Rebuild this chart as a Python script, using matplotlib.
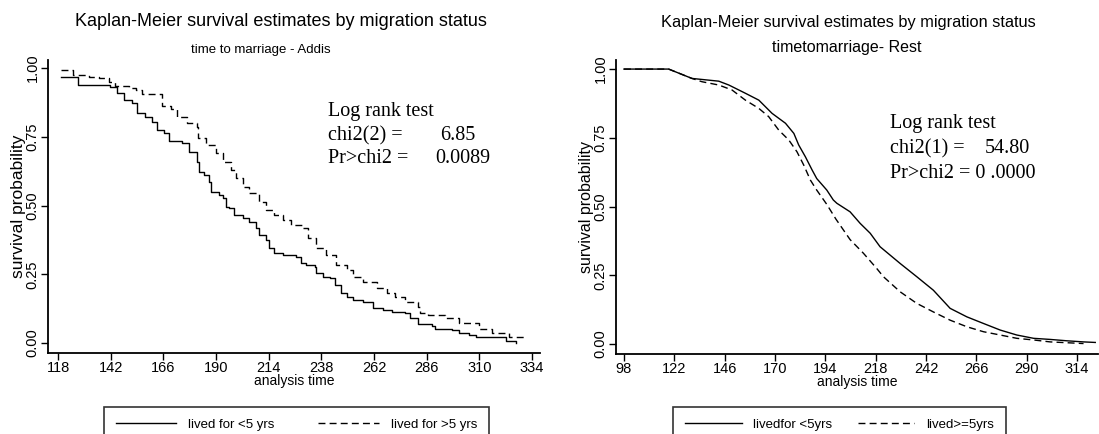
import matplotlib
matplotlib.use("Agg")
import matplotlib.pyplot as plt

# === Date ===
# Addis - lived for <5 yrs
addis_t_lt5 = [119.4, 127.3, 141.8, 144.9, 147.9, 151.7, 154.0, 157.8, 160.9, 163.2, 166.2, 168.5,
               174.6, 177.7, 181.5, 182.3, 184.6, 186.9, 187.7, 191.4, 193.0, 194.5, 196.0, 198.3,
               202.1, 205.2, 208.2, 209.7, 212.8, 214.3, 216.6, 220.5, 226.5, 228.8, 231.1, 234.9,
               235.7, 238.8, 241.8, 244.1, 247.2, 249.5, 252.5, 257.1, 261.7, 266.3, 270.1, 276.2,
               278.5, 282.3, 288.4, 289.9, 297.6, 300.6, 305.2, 308.3, 315.9, 322.0, 326.6]
addis_s_lt5 = [0.968, 0.938, 0.932, 0.908, 0.884, 0.872, 0.835, 0.823, 0.805, 0.775, 0.763, 0.735,
               0.726, 0.696, 0.659, 0.623, 0.611, 0.587, 0.550, 0.538, 0.526, 0.496, 0.490, 0.465,
               0.453, 0.441, 0.417, 0.393, 0.375, 0.344, 0.326, 0.320, 0.314, 0.290, 0.284, 0.277,
               0.253, 0.241, 0.235, 0.211, 0.181, 0.168, 0.156, 0.150, 0.126, 0.120, 0.114, 0.108,
               0.090, 0.069, 0.062, 0.053, 0.047, 0.037, 0.029, 0.023, 0.021, 0.008, 0.001]

# Addis - lived for >5 yrs
addis_t_gt5 = [119.4, 125.0, 131.9, 136.5, 141.0, 144.1, 150.2, 153.3, 156.3, 165.5, 169.3, 172.4,
               176.9, 181.5, 182.0, 185.3, 189.9, 193.0, 196.8, 199.1, 202.1, 205.2, 209.7, 212.8,
               216.6, 220.5, 224.3, 229.6, 231.9, 235.7, 240.3, 244.9, 249.5, 252.5, 257.1, 263.2,
               267.8, 271.6, 276.2, 282.3, 283.0, 286.8, 294.5, 300.6, 309.8, 315.9, 323.5, 331.1]
addis_s_gt5 = [0.993, 0.975, 0.968, 0.962, 0.950, 0.936, 0.926, 0.920, 0.904, 0.860, 0.851, 0.823,
               0.799, 0.787, 0.744, 0.720, 0.690, 0.659, 0.629, 0.599, 0.569, 0.544, 0.514, 0.484,
               0.465, 0.447, 0.429, 0.417, 0.381, 0.344, 0.320, 0.284, 0.265, 0.241, 0.223, 0.199,
               0.181, 0.168, 0.150, 0.132, 0.108, 0.102, 0.093, 0.072, 0.053, 0.035, 0.021, 0.017]

# Rest - lived for <5yrs
rest_t_lt5 = [98, 119.3, 130.4, 143.2, 148.0, 155.9, 162.3, 168.6, 175.0, 179.0, 181.3, 184.5,
              187.7, 189.9, 194.7, 197.8, 199.5, 205.8, 210.6, 215.4, 220.1, 229.7, 237.6, 245.5,
              253.5, 261.5, 269.4, 277.4, 285.3, 293.3, 301.2, 309.2, 317.1, 322.7]
rest_s_lt5 = [1.0, 1.0, 0.966, 0.956, 0.942, 0.912, 0.887, 0.839, 0.803, 0.766, 0.724, 0.681,
              0.633, 0.602, 0.560, 0.524, 0.512, 0.481, 0.439, 0.403, 0.354, 0.293, 0.245, 0.196,
              0.130, 0.099, 0.075, 0.051, 0.033, 0.021, 0.017, 0.012, 0.008, 0.006]

# Rest - lived>=5yrs
rest_t_ge5 = [98, 119.3, 130.4, 135.2, 143.2, 149.5, 155.9, 162.3, 167.0, 171.8, 176.6, 180.5,
              183.7, 186.9, 189.9, 194.7, 199.0, 205.8, 212.2, 218.5, 221.7, 229.7, 237.6, 245.5,
              253.5, 261.5, 269.4, 277.4, 285.3, 293.3, 301.2, 309.2, 317.1]
rest_s_ge5 = [1.0, 1.0, 0.966, 0.954, 0.942, 0.924, 0.887, 0.857, 0.827, 0.778, 0.742, 0.699,
              0.651, 0.596, 0.560, 0.508, 0.455, 0.380, 0.330, 0.275, 0.245, 0.190, 0.148, 0.117,
              0.087, 0.063, 0.045, 0.033, 0.021, 0.015, 0.008, 0.005, 0.002]

addis_xticks = [118, 142, 166, 190, 214, 238, 262, 286, 310, 334]
rest_xticks = [98, 122, 146, 170, 194, 218, 242, 266, 290, 314]
yticks = [0.0, 0.25, 0.5, 0.75, 1.0]

W, H = 1099, 434
SANS = ["Liberation Sans", "DejaVu Sans"]
SERIF = ["Liberation Serif", "DejaVu Serif"]
plt.rcParams["font.family"] = SANS
DASH = (0, (5, 3))


def fx(px):
    return px / W


def fy(py):
    return 1 - py / H


fig = plt.figure(figsize=(W / 100, H / 100), dpi=100)
ax1 = fig.add_axes([fx(48), fy(353), fx(540) - fx(48), fy(60) - fy(353)])
ax2 = fig.add_axes([fx(616), fy(354), fx(1098) - fx(616), fy(60) - fy(354)])

ax1.plot(addis_t_lt5, addis_s_lt5, color="black", lw=1.0, drawstyle="steps-post", label="lived for <5 yrs")
ax1.plot(addis_t_gt5, addis_s_gt5, color="black", lw=1.0, ls=DASH, drawstyle="steps-post", label="lived for >5 yrs")
ax2.plot(rest_t_lt5, rest_s_lt5, color="black", lw=1.0, label="livedfor <5yrs")
ax2.plot(rest_t_ge5, rest_s_ge5, color="black", lw=1.0, ls=DASH, label="lived>=5yrs")

ax1.set_xlim(113.4, 337.7)
ax1.set_ylim(-0.036, 1.029)
ax2.set_xlim(94.2, 324)
ax2.set_ylim(-0.036, 1.033)

for ax, xt, ylfs in [(ax1, addis_xticks, 12.5), (ax2, rest_xticks, 11.5)]:
    ax.spines["top"].set_visible(False)
    ax.spines["right"].set_visible(False)
    ax.spines["left"].set_linewidth(1.3)
    ax.spines["bottom"].set_linewidth(1.3)
    ax.set_xticks(xt)
    ax.set_yticks(yticks)
    ax.set_yticklabels([f"{v:.2f}" for v in yticks], rotation=90, va="center")
    ax.tick_params(length=5, width=1, labelsize=10.5, pad=1)
    ax.set_xlabel("analysis time", fontsize=10, labelpad=-1)
    ax.set_ylabel("survival probability", fontsize=ylfs, labelpad=0)

# === Titluri ===
fig.text(fx(281), fy(26), "Kaplan-Meier survival estimates by migration status", ha="center", va="baseline", fontsize=13)
fig.text(fx(261), fy(53), "time to marriage - Addis", ha="center", va="baseline", fontsize=9.5)
fig.text(fx(848), fy(27), "Kaplan-Meier survival estimates by migration status", ha="center", va="baseline", fontsize=11.8)
fig.text(fx(847), fy(52), "timetomarriage- Rest", ha="center", va="baseline", fontsize=11.5)

# === Log rank test ===
fs = 14.5
fig.text(fx(328), fy(116), "Log rank test", va="baseline", fontsize=fs, family=SERIF)
fig.text(fx(328), fy(140), "chi2(2) =", va="baseline", fontsize=fs, family=SERIF)
fig.text(fx(440), fy(140), "6.85", va="baseline", fontsize=fs, family=SERIF)
fig.text(fx(328), fy(163), "Pr>chi2 =", va="baseline", fontsize=fs, family=SERIF)
fig.text(fx(435), fy(163), "0.0089", va="baseline", fontsize=fs, family=SERIF)

fig.text(fx(890), fy(128), "Log rank test", va="baseline", fontsize=fs, family=SERIF)
fig.text(fx(890), fy(153), "chi2(1) =", va="baseline", fontsize=fs, family=SERIF)
fig.text(fx(985), fy(153), "54.80", va="baseline", fontsize=fs, family=SERIF)
fig.text(fx(890), fy(178), "Pr>chi2 = 0 .0000", va="baseline", fontsize=fs, family=SERIF)

# === Legende (taiate jos de marginea figurii) ===
for ax, cx, hl, cs in [(ax1, 296.5, 4.6, 3.3), (ax2, 839.5, 4.3, 1.9)]:
    leg = fig.legend(*ax.get_legend_handles_labels(), loc="upper center", bbox_to_anchor=(fx(cx), fy(407)),
                     ncol=2, fontsize=9.5, frameon=True, fancybox=False, edgecolor="black",
                     handlelength=hl, handletextpad=0.9, columnspacing=cs, borderpad=0.9, borderaxespad=0)
    leg.get_frame().set_linewidth(1.2)

fig.savefig("out.png", dpi=100)
